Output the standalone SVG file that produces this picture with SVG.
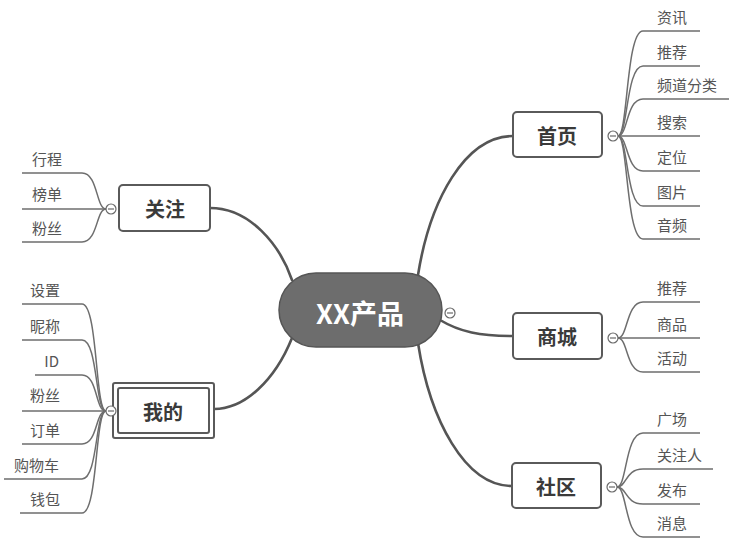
<svg xmlns="http://www.w3.org/2000/svg" width="730" height="538" viewBox="0 0 730 538">
<style>
.main{fill:none;stroke:#555;stroke-width:2.6;stroke-linecap:round}
.sub{fill:none;stroke:#6e6e6e;stroke-width:1.5}
.box{fill:#fff;stroke:#5a5a5a;stroke-width:2}
.bt{font-family:"Noto Sans CJK SC","Noto Sans",sans-serif;font-size:20px;font-weight:bold;fill:#3a3a3a;text-anchor:middle;dominant-baseline:central}
.ct{font-family:"Noto Sans CJK SC","Noto Sans",sans-serif;font-size:15px;fill:#555}
.r{text-anchor:end}
.tog{fill:#fff;stroke:#6a6a6a;stroke-width:1.2}
.tm{stroke:#6a6a6a;stroke-width:1.2}
</style>
<rect width="730" height="538" fill="#fff"/>
<g id="connectors">
<path class="main" d="M418,275 C430,200 465,136 513,136"/>
<path class="main" d="M292,280 C280,245 250,208 210,208"/>
<path class="main" d="M292,338 C275,380 245,409 214,409"/>
<path class="main" d="M440,320 C460,332 480,336 513,336"/>
<path class="main" d="M418,343 C430,420 465,486 512,486"/>
<path class="sub" d="M618,136 C628,136 626,31 643,31 H700"/>
<path class="sub" d="M618,136 C628,136 626,66 643,66 H700"/>
<path class="sub" d="M618,136 C628,136 626,99 643,99 H729"/>
<path class="sub" d="M618,136 H700"/>
<path class="sub" d="M618,136 C628,136 626,171 643,171 H700"/>
<path class="sub" d="M618,136 C628,136 626,206 643,206 H700"/>
<path class="sub" d="M618,136 C628,136 626,239 643,239 H700"/>
<path class="sub" d="M618,338 C628,338 626,302 643,302 H700"/>
<path class="sub" d="M618,338 H700"/>
<path class="sub" d="M618,338 C628,338 626,372 643,372 H700"/>
<path class="sub" d="M617,487 C627,487 625,433 643,433 H700"/>
<path class="sub" d="M617,487 C627,487 625,469 643,469 H713"/>
<path class="sub" d="M617,487 C627,487 625,504 643,504 H700"/>
<path class="sub" d="M617,487 C627,487 625,537 643,537 H700"/>
<path class="sub" d="M106,209 C96,209 98,173 82,173 H22"/>
<path class="sub" d="M106,209 H22"/>
<path class="sub" d="M106,209 C96,209 98,242 82,242 H22"/>
<path class="sub" d="M106,411 C95,411 98,304 82,304 H22"/>
<path class="sub" d="M106,411 C95,411 98,340 82,340 H22"/>
<path class="sub" d="M106,411 C95,411 98,375 82,375 H35"/>
<path class="sub" d="M106,411 H22"/>
<path class="sub" d="M106,411 C95,411 98,444 82,444 H22"/>
<path class="sub" d="M106,411 C95,411 98,479 82,479 H4"/>
<path class="sub" d="M106,411 C95,411 98,513 82,513 H20"/>
</g>
<g id="center">
<rect x="279" y="273" width="163" height="74" rx="37" fill="#6d6d6d" stroke="#555" stroke-width="1.5"/>
<text x="360" y="312" font-family="'Noto Sans CJK SC','Noto Sans',sans-serif" font-size="27" font-weight="bold" fill="#fff" text-anchor="middle" dominant-baseline="central">XX产品</text>
<circle class="tog" cx="450" cy="313" r="5"/><line class="tm" x1="447" y1="313" x2="453" y2="313"/>
</g>
<g id="shouye">
<rect class="box" x="513" y="112" width="89" height="45" rx="4"/>
<text class="bt" x="557" y="135">首页</text>
<circle class="tog" cx="613" cy="136" r="5"/><line class="tm" x1="610" y1="136" x2="616" y2="136"/>
<text class="ct" x="657" y="23">资讯</text>
<text class="ct" x="657" y="58">推荐</text>
<text class="ct" x="657" y="91">频道分类</text>
<text class="ct" x="657" y="128">搜索</text>
<text class="ct" x="657" y="163">定位</text>
<text class="ct" x="657" y="198">图片</text>
<text class="ct" x="657" y="231">音频</text>
</g>
<g id="shangcheng">
<rect class="box" x="513" y="313" width="89" height="46" rx="4"/>
<text class="bt" x="557" y="336">商城</text>
<circle class="tog" cx="613" cy="338" r="5"/><line class="tm" x1="610" y1="338" x2="616" y2="338"/>
<text class="ct" x="657" y="294">推荐</text>
<text class="ct" x="657" y="330">商品</text>
<text class="ct" x="657" y="364">活动</text>
</g>
<g id="shequ">
<rect class="box" x="512" y="463" width="89" height="45" rx="4"/>
<text class="bt" x="556" y="486">社区</text>
<circle class="tog" cx="612" cy="487" r="5"/><line class="tm" x1="609" y1="487" x2="615" y2="487"/>
<text class="ct" x="657" y="425">广场</text>
<text class="ct" x="657" y="461">关注人</text>
<text class="ct" x="657" y="496">发布</text>
<text class="ct" x="657" y="529">消息</text>
</g>
<g id="guanzhu">
<rect class="box" x="119" y="185" width="91" height="46" rx="4"/>
<text class="bt" x="165" y="208">关注</text>
<circle class="tog" cx="111" cy="209" r="5"/><line class="tm" x1="108" y1="209" x2="114" y2="209"/>
<text class="ct r" x="62" y="165">行程</text>
<text class="ct r" x="62" y="200">榜单</text>
<text class="ct r" x="62" y="234">粉丝</text>
</g>
<g id="wode">
<rect class="box" x="113" y="383" width="101" height="55" rx="2"/>
<rect class="box" x="118" y="388" width="91" height="45" rx="2"/>
<text class="bt" x="163" y="411">我的</text>
<circle class="tog" cx="111" cy="411" r="5"/><line class="tm" x1="108" y1="411" x2="114" y2="411"/>
<text class="ct r" x="60" y="296">设置</text>
<text class="ct r" x="60" y="332">昵称</text>
<text class="ct r" x="59" y="367">ID</text>
<text class="ct r" x="60" y="401">粉丝</text>
<text class="ct r" x="60" y="436">订单</text>
<text class="ct r" x="59" y="471">购物车</text>
<text class="ct r" x="60" y="505">钱包</text>
</g>
</svg>
